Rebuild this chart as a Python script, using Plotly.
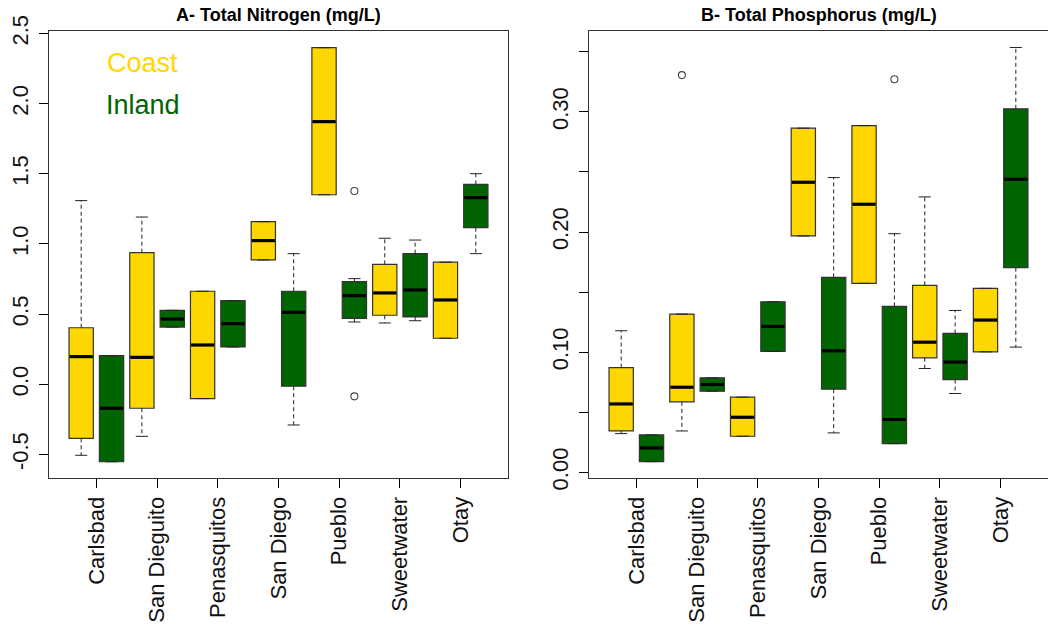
import plotly.graph_objects as go

# ---------------- data ----------------
sites = ["Carlsbad", "San Dieguito", "Penasquitos", "San Diego", "Pueblo", "Sweetwater", "Otay"]

# A - Total Nitrogen (mg/L)
tn_coast_lower = [-0.506, -0.371, -0.102, 0.886, 1.351, 0.437, 0.328]
tn_coast_q1 = [-0.385, -0.171, -0.102, 0.886, 1.351, 0.492, 0.328]
tn_coast_med = [0.197, 0.192, 0.280, 1.024, 1.872, 0.651, 0.601]
tn_coast_q3 = [0.403, 0.938, 0.663, 1.159, 2.399, 0.855, 0.870]
tn_coast_upper = [1.309, 1.192, 0.663, 1.159, 2.399, 1.041, 0.870]

tn_inland_lower = [-0.552, 0.408, 0.266, -0.290, 0.444, 0.453, 0.931]
tn_inland_q1 = [-0.552, 0.408, 0.266, -0.014, 0.470, 0.480, 1.116]
tn_inland_med = [-0.171, 0.465, 0.432, 0.513, 0.632, 0.672, 1.330]
tn_inland_q3 = [0.204, 0.527, 0.596, 0.663, 0.731, 0.931, 1.425]
tn_inland_upper = [0.204, 0.527, 0.596, 0.931, 0.753, 1.028, 1.501]

tn_outlier_site = ["Pueblo", "Pueblo"]
tn_outlier_group = ["Inland", "Inland"]
tn_outlier_value = [1.378, -0.086]

# B - Total Phosphorus (mg/L)
tp_coast_lower = [0.0322, 0.0344, 0.0300, 0.1967, 0.1572, 0.0864, 0.1003]
tp_coast_q1 = [0.0344, 0.0586, 0.0300, 0.1967, 0.1572, 0.0953, 0.1003]
tp_coast_med = [0.0569, 0.0708, 0.0458, 0.2414, 0.2231, 0.1083, 0.1267]
tp_coast_q3 = [0.0872, 0.1317, 0.0625, 0.2864, 0.2886, 0.1556, 0.1531]
tp_coast_upper = [0.1178, 0.1317, 0.0625, 0.2864, 0.2886, 0.2292, 0.1531]

tp_inland_lower = [0.0089, 0.0675, 0.1006, 0.0328, 0.0239, 0.0656, 0.1042]
tp_inland_q1 = [0.0089, 0.0675, 0.1006, 0.0692, 0.0239, 0.0772, 0.1703]
tp_inland_med = [0.0203, 0.0731, 0.1214, 0.1011, 0.0439, 0.0917, 0.2439]
tp_inland_q3 = [0.0311, 0.0786, 0.1419, 0.1622, 0.1381, 0.1156, 0.3025]
tp_inland_upper = [0.0311, 0.0786, 0.1419, 0.2453, 0.1986, 0.1347, 0.3536]

tp_outlier_site = ["San Dieguito", "Pueblo"]
tp_outlier_group = ["Coast", "Inland"]
tp_outlier_value = [0.3306, 0.3272]

tn_ticks = [-0.5, 0.0, 0.5, 1.0, 1.5, 2.0, 2.5]
tn_ticktext = ["-0.5", "0.0", "0.5", "1.0", "1.5", "2.0", "2.5"]
tp_ticks = [0.00, 0.05, 0.10, 0.15, 0.20, 0.25, 0.30, 0.35]
tp_ticktext = ["0.00", "", "0.10", "", "0.20", "", "0.30", ""]

# ---------------- style ----------------
COAST = "#FFD700"
INLAND = "#006400"
EDGE = "#333333"
FONT = "Liberation Sans, Arial, sans-serif"
BOXW = 0.8
STAPLE = 0.2

W, H = 1048, 630


def px(x):
    return x / W


def py(y):
    return 1 - y / H


coast_pos = [2 * i + 1 for i in range(len(sites))]
inland_pos = [2 * i + 2 for i in range(len(sites))]
site_tick = [2 * i + 1.5 for i in range(len(sites))]


def pos_of(site, group):
    i = sites.index(site)
    return coast_pos[i] if group == "Coast" else inland_pos[i]


fig = go.Figure()


def add_group(pos, lower, q1, med, q3, upper, color, xa, ya):
    # whiskers (dashed)
    wx, wy = [], []
    for p, lo, a, b, up in zip(pos, lower, q1, q3, upper):
        if up > b:
            wx += [p, p, None]
            wy += [b, up, None]
        if lo < a:
            wx += [p, p, None]
            wy += [a, lo, None]
    fig.add_trace(go.Scatter(x=wx, y=wy, mode="lines", xaxis=xa, yaxis=ya,
                             line=dict(color="#222222", width=1, dash="4px,3px"),
                             showlegend=False, hoverinfo="skip"))
    # staples
    sx, sy = [], []
    for p, lo, up in zip(pos, lower, upper):
        sx += [p - STAPLE, p + STAPLE, None, p - STAPLE, p + STAPLE, None]
        sy += [up, up, None, lo, lo, None]
    fig.add_trace(go.Scatter(x=sx, y=sy, mode="lines", xaxis=xa, yaxis=ya,
                             line=dict(color="#222222", width=1),
                             showlegend=False, hoverinfo="skip"))
    # boxes
    fig.add_trace(go.Box(x=pos, q1=q1, median=med, q3=q3, lowerfence=q1, upperfence=q3,
                         width=BOXW, whiskerwidth=0, boxpoints=False,
                         fillcolor=color, line=dict(color=EDGE, width=1.2),
                         xaxis=xa, yaxis=ya, showlegend=False, hoverinfo="skip"))
    # medians (thick)
    mx, my = [], []
    for p, m in zip(pos, med):
        mx += [p - BOXW / 2 + 0.02, p + BOXW / 2 - 0.02, None]
        my += [m, m, None]
    fig.add_trace(go.Scatter(x=mx, y=my, mode="lines", xaxis=xa, yaxis=ya,
                             line=dict(color="black", width=3.2),
                             showlegend=False, hoverinfo="skip"))


def add_outliers(osite, ogroup, oval, xa, ya):
    fig.add_trace(go.Scatter(x=[pos_of(s, g) for s, g in zip(osite, ogroup)], y=oval,
                             mode="markers", xaxis=xa, yaxis=ya,
                             marker=dict(symbol="circle-open", size=7, color="#444444",
                                         line=dict(width=1.1)),
                             showlegend=False, hoverinfo="skip"))


add_group(coast_pos, tn_coast_lower, tn_coast_q1, tn_coast_med, tn_coast_q3, tn_coast_upper, COAST, "x", "y")
add_group(inland_pos, tn_inland_lower, tn_inland_q1, tn_inland_med, tn_inland_q3, tn_inland_upper, INLAND, "x", "y")
add_outliers(tn_outlier_site, tn_outlier_group, tn_outlier_value, "x", "y")

add_group(coast_pos, tp_coast_lower, tp_coast_q1, tp_coast_med, tp_coast_q3, tp_coast_upper, COAST, "x2", "y2")
add_group(inland_pos, tp_inland_lower, tp_inland_q1, tp_inland_med, tp_inland_q3, tp_inland_upper, INLAND, "x2", "y2")
add_outliers(tp_outlier_site, tp_outlier_group, tp_outlier_value, "x2", "y2")

xrange = [-0.06, 2 * len(sites) + 1.06]
ydom = [py(478), py(31)]

common_x = dict(range=xrange, tickmode="array", tickvals=site_tick, ticktext=sites,
                tickangle=-90, ticks="outside", ticklen=9, tickcolor="black", tickwidth=1,
                showline=True, mirror=True, linecolor=EDGE, linewidth=1,
                showgrid=False, zeroline=False, automargin=False,
                tickfont=dict(family=FONT, size=22, color="#111111"),
                ticklabelstandoff=0)
common_y = dict(tickmode="array", tickangle=-90, ticks="outside", ticklen=9,
                tickcolor="black", tickwidth=1,
                showline=True, mirror=True, linecolor=EDGE, linewidth=1,
                showgrid=False, zeroline=False, automargin=False,
                tickfont=dict(family=FONT, size=22, color="#111111"),
                ticklabelstandoff=2, domain=ydom)

fig.update_layout(
    width=W, height=H,
    margin=dict(l=0, r=0, t=0, b=0),
    paper_bgcolor="white", plot_bgcolor="white",
    boxmode="overlay",
    showlegend=False,
    hovermode=False,
    xaxis=dict(domain=[px(49), px(508)], anchor="y", **common_x),
    xaxis2=dict(domain=[px(589), 1.0], anchor="y2", **common_x),
    yaxis=dict(range=[-0.668, 2.518], tickvals=tn_ticks, ticktext=tn_ticktext, anchor="x", **common_y),
    yaxis2=dict(range=[-0.00475, 0.3673], tickvals=tp_ticks, ticktext=tp_ticktext, anchor="x2", **common_y),
    annotations=[
        dict(text="<b>A- Total Nitrogen (mg/L)</b>", xref="paper", yref="paper",
             x=px((49 + 508) / 2), y=py(15), showarrow=False,
             font=dict(family=FONT, size=18, color="black"), xanchor="center", yanchor="middle"),
        dict(text="<b>B- Total Phosphorus (mg/L)</b>", xref="paper", yref="paper",
             x=px((589 + 1048) / 2), y=py(15), showarrow=False,
             font=dict(family=FONT, size=18, color="black"), xanchor="center", yanchor="middle"),
        dict(text="Coast", xref="paper", yref="paper", x=px(105), y=py(63),
             showarrow=False, xanchor="left", yanchor="middle",
             font=dict(family=FONT, size=27, color=COAST)),
        dict(text="Inland", xref="paper", yref="paper", x=px(104), y=py(105),
             showarrow=False, xanchor="left", yanchor="middle",
             font=dict(family=FONT, size=27, color=INLAND)),
    ],
)

# remove the default 8px page margin so the figure fills the window exactly
fig.write_html("out.html", config={"displayModeBar": False, "staticPlot": True},
               post_script="document.body.style.margin='0px';")
